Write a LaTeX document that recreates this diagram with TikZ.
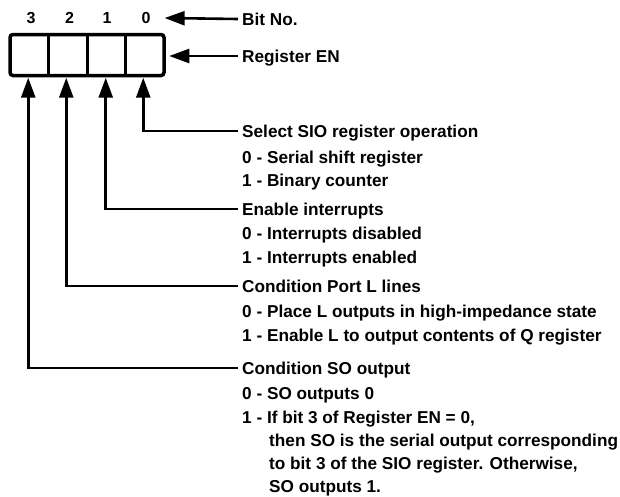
\documentclass[tikz,border=0pt]{standalone}
\usepackage{fontspec}
\setmainfont{Liberation Sans}
\usetikzlibrary{arrows.meta}
\tikzset{
  lbl/.style={anchor=west, inner xsep=4pt, inner ysep=0pt, text height=12.3pt, text depth=0pt,
    font=\fontsize{17.2}{20}\selectfont\bfseries},
  digit/.style={inner sep=0pt, font=\fontsize{16}{18}\selectfont\bfseries},
  cell/.style={minimum width=38.5pt, minimum height=41pt, inner sep=0pt, draw=none},
  regbox/.style={draw, line width=3.5pt, rounded corners=3pt, minimum width=154pt, minimum height=41pt, inner sep=0pt},
  divider/.style={line width=3pt},
  conn/.style={line width=2.6pt},
  arr/.style={line width=2.6pt, -{Triangle[length=20pt,width=14pt]}}
}
\begin{document}
\begin{tikzpicture}[x=1pt,y=-1pt]
\useasboundingbox[fill=white] (0,0) rectangle (620,496);
% register
\node[regbox] (reg) at (87,55) {};
\node[cell] (c3) at (29.25,55) {};
\node[cell] (c2) at (67.75,55) {};
\node[cell] (c1) at (106.25,55) {};
\node[cell] (c0) at (144.75,55) {};
\draw[divider] (c3.north east) -- (c3.south east);
\draw[divider] (c2.north east) -- (c2.south east);
\draw[divider] (c1.north east) -- (c1.south east);
% bit numbers
\node[digit] (n3) at (31,18) {3};
\node[digit] (n2) at (69.5,18) {2};
\node[digit] (n1) at (107,18) {1};
\node[digit] (n0) at (146,18) {0};
% labels
\node[lbl] (bitno) at (238,19) {Bit No.};
\node[lbl] (regen) at (238,56) {Register EN};
\node[lbl] (h0) at (238,131) {Select SIO register operation};
\node[lbl] (h0a) at (238,157) {0 - Serial shift register};
\node[lbl] (h0b) at (238,180) {1 - Binary counter};
\node[lbl] (h1) at (238,209) {Enable interrupts};
\node[lbl] (h1a) at (238,233) {0 - Interrupts disabled};
\node[lbl] (h1b) at (238,257) {1 - Interrupts enabled};
\node[lbl] (h2) at (238,286) {Condition Port L lines};
\node[lbl] (h2a) at (238,311) {0 - Place L outputs in high-impedance state};
\node[lbl] (h2b) at (238,335) {1 - Enable L to output contents of Q register};
\node[lbl] (h3) at (238,368) {Condition SO output};
\node[lbl] (h3a) at (238,393) {0 - SO outputs 0};
\node[lbl] (h3b) at (238,417) {1 - If bit 3 of Register EN = 0,};
\node[lbl] (h3c) at (265,440) {then SO is the serial output corresponding};
\node[lbl] (h3d) at (265,463) {to bit 3 of the SIO register. Otherwise,};
\node[lbl] (h3e) at (265,486) {SO outputs 1.};
% arrows
\draw[arr] (bitno.west) -- ([xshift=14pt]n0.east);
\draw[arr] (regen.west) -- ([xshift=3.5pt]regen.west -| reg.east);
\draw[arr] (h0.west) -| ([xshift=-1.5pt,yshift=-2pt]c0.south);
\draw[arr] (h1.west) -| ([xshift=-0.5pt,yshift=-2pt]c1.south);
\draw[arr] (h2.west) -| ([xshift=-1.5pt,yshift=-2pt]c2.south);
\draw[arr] (h3.west) -| ([xshift=-1pt,yshift=-2pt]c3.south);
\end{tikzpicture}
\end{document}
